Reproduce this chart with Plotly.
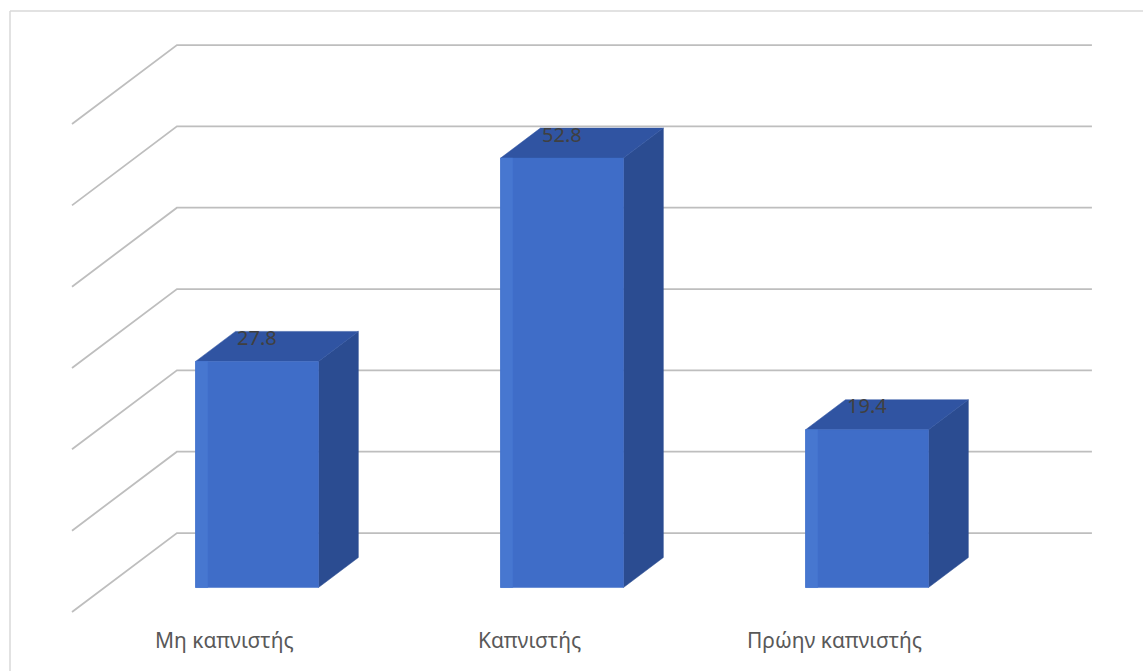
import plotly.graph_objects as go

# Smoking status shares (%)
categories = ["Μη καπνιστής", "Καπνιστής", "Πρώην καπνιστής"]
values = [27.8, 52.8, 19.4]
value_labels = ["27.8", "52.8", "19.4"]
grid_values = [0, 10, 20, 30, 40, 50, 60]

# Oblique 3D projection parameters (data units)
DEPTH_X = 0.344      # horizontal shift of the full depth, in category slots
DEPTH_Y = 9.71       # vertical shift of the full depth, in value units
BAR_Z0 = 0.31        # bar front depth fraction
BAR_DZ = 0.38        # bar depth fraction
BAR_W = 0.403        # bar width, in category slots
N = len(categories)

FRONT = "#3F6DC8"
FRONT_EDGE = "#4777D0"
SIDE = "#2B4C91"
TOP = "#3054A2"
GRID = "#BEBEBE"

fig = go.Figure()

# Side wall and back wall gridlines
for g in grid_values:
    fig.add_trace(go.Scatter(
        x=[0, DEPTH_X, DEPTH_X + N],
        y=[g, g + DEPTH_Y, g + DEPTH_Y],
        mode="lines", line=dict(color=GRID, width=1.8),
        hoverinfo="skip", showlegend=False))


def poly(xs, ys, color):
    fig.add_trace(go.Scatter(
        x=xs + [xs[0]], y=ys + [ys[0]], mode="lines", fill="toself",
        fillcolor=color, line=dict(color=color, width=0.5),
        hoverinfo="skip", showlegend=False))


ddx = BAR_DZ * DEPTH_X
ddy = BAR_DZ * DEPTH_Y
for i, v in enumerate(values):
    x0 = i + 0.5 - BAR_W / 2 + BAR_Z0 * DEPTH_X
    x1 = x0 + BAR_W
    y0 = BAR_Z0 * DEPTH_Y
    y1 = y0 + v
    # right side face
    poly([x1, x1 + ddx, x1 + ddx, x1], [y0, y0 + ddy, y1 + ddy, y1], SIDE)
    # top face
    poly([x0, x1, x1 + ddx, x0 + ddx], [y1, y1, y1 + ddy, y1 + ddy], TOP)
    # front face
    poly([x0, x1, x1, x0], [y0, y0, y1, y1], FRONT)
    # lighter strip near the left edge of the front face
    poly([x0, x0 + 0.04, x0 + 0.04, x0], [y0, y0, y1, y1], FRONT_EDGE)
    # value label near the back edge of the top
    fig.add_annotation(
        x=(x0 + x1) / 2, y=y1 + ddy, text=value_labels[i], showarrow=False,
        yanchor="middle", yshift=-6,
        font=dict(family="Noto Sans", size=20, color="#404040"))

# Category labels
for i, c in enumerate(categories):
    fig.add_annotation(
        x=i + 0.5, y=-3.5, text=c, showarrow=False, yanchor="middle",
        font=dict(family="Noto Sans", size=21, color="#595959"))

fig.update_layout(
    width=1143, height=671,
    margin=dict(l=0, r=0, t=0, b=0),
    paper_bgcolor="white", plot_bgcolor="white",
    xaxis=dict(range=[-72 / 305, 1071 / 305], visible=False, fixedrange=True),
    yaxis=dict(range=[-59 / 8.133, 612 / 8.133], visible=False, fixedrange=True),
    shapes=[
        dict(type="line", xref="paper", yref="paper", x0=10 / 1143, x1=1.0,
             y0=1 - 11 / 671, y1=1 - 11 / 671, line=dict(color="#D9D9D9", width=1.5)),
        dict(type="line", xref="paper", yref="paper", x0=10 / 1143, x1=10 / 1143,
             y0=0, y1=1 - 11 / 671, line=dict(color="#D9D9D9", width=1.5)),
    ],
)

fig.write_html("out.html")
